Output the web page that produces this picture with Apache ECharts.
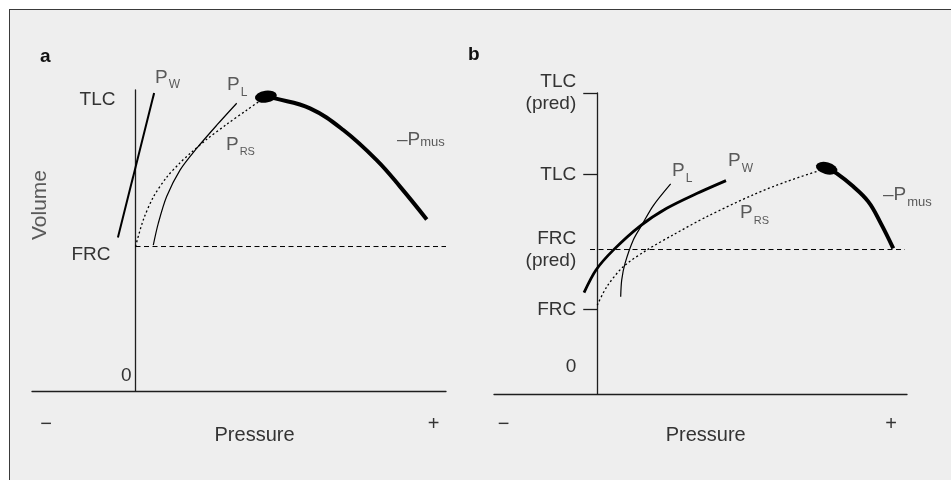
<!DOCTYPE html>
<html><head><meta charset="utf-8">
<script src="https://cdn.jsdelivr.net/npm/echarts@6/dist/echarts.min.js"></script>
<style>
html,body{margin:0;padding:0;background:#fff;}
#wrap{position:relative;width:951px;height:480px;overflow:hidden;}
#frame{position:absolute;left:9px;top:9px;width:942px;height:471px;background:#eeeeee;border-top:1px solid #3a3a3a;border-left:1px solid #3a3a3a;box-sizing:border-box;}
#chart{position:absolute;left:0;top:0;width:951px;height:480px;}
</style></head><body>
<div id="wrap"><div id="frame"></div><div id="chart"></div></div>
<script>
// ---------- data (pressure, volume as % of predicted TLC) ----------
// Panel a
const aPW   = [[-1.7,51],[1.8,99]];
const aPL   = [[1.72,48.5],[2.2,55.7],[3.01,64.6],[4.3,73.4],[5.91,80.6],[7.85,88.3],[9.78,95.6]];
const aPRS  = [[0,48],[0.75,56.8],[1.72,64.4],[3.01,71.0],[4.3,75.8],[5.27,78.9],[6.88,83.6],[8.81,88.6],[10.74,93.3],[12.6,97.8]];
const aPmus = [[12.6,97.8],[13.48,97.2],[16.86,93.9],[20.08,86.7],[23.3,76.7],[25.56,67.9],[28.14,57.0]];
const aDot  = [[12.6,97.8]];
const aFRCline = [[0,48],[30,48]];
const aVolTicks  = [0, 48, 100];
const aVolLabels = ['0', 'FRC', 'TLC'];
const aPressPos    = [-8.65, 11.5, 28.8];
const aPressLabels = ['\u2212', 'Pressure', '+'];
const aCurveNames = [['P','W'], ['P','L'], ['P','RS'], ['\u2013P','mus']];
const aCurvePos   = [[1.88,103], [8.84,100.5], [8.74,80.8], [25.27,82.2]];
const aVolumePos  = [[-9.23,61.8]];

// Panel b
const bPW   = [[-1.28,33.7],[-0.12,41.2],[1.55,47.8],[4.14,55.8],[6.73,61.7],[9.63,66.6],[12.47,70.9]];
const bPL   = [[2.27,32.3],[2.37,37.9],[2.69,43.4],[3.49,51.2],[4.31,56.1],[5.43,62.6],[7.11,69.8]];
const bPRS  = [[0,29.5],[0.92,35.6],[2.52,42.3],[4.79,47.8],[7.37,52.9],[10.6,58.9],[15.11,66.2],[18.35,70.6],[22.22,75.0]];
const bPmus = [[22.22,75.0],[23.19,73.3],[24.8,68.9],[26.25,63.9],[27.39,57.2],[28.67,48.4]];
const bDot  = [[22.22,75.0]];
const bFRCline = [[-0.7,48],[29.8,48]];
const bVolTicks  = [0, 28, 48, 73, 100];
const bVolLabels = ['0', 'FRC', 'FRC\n(pred)', 'TLC', 'TLC\n(pred)'];
const bTickMarks = [28, 73, 100];
const bPressPos    = [-9.08, 10.5, 28.45];
const bPressLabels = ['\u2212', 'Pressure', '+'];
const bCurveNames = [['P','L'], ['P','W'], ['P','RS'], ['\u2013P','mus']];
const bCurvePos   = [[7.24,72.9], [12.66,76.2], [13.83,59.0], [27.67,64.9]];

// ---------- styling ----------
const FONT = 'Liberation Sans, Arial, Helvetica, sans-serif';
const TXT = '#333333';
const AX = '#1e1e1e';
// layout: grid boxes (px) and the x-range; y-axis line sits at pressure 0
const X_MIN = -10, X_MAX = 30;
const GA = {left: 32, right: 505, top: 90, bottom: 89};
const GB = {left: 494, right: 44, top: 93, bottom: 86};
function zeroOffset(g){ const w = 951 - g.left - g.right; return w * (0 - X_MIN) / (X_MAX - X_MIN); }

function base(extra){ return Object.assign({fontFamily: FONT, color: TXT, fontSize: 19}, extra||{}); }

function volFormatter(ticks, labels, extraStyles){
  return function(v){
    const i = ticks.indexOf(v);
    if (i < 0) return '';
    const lab = labels[i];
    let st = 'n';
    if (lab === '0') st = 'zero';
    else if (extraStyles && extraStyles[lab]) st = extraStyles[lab];
    return lab.split('\n').map(s => '{' + st + '|' + s + '}').join('\n');
  };
}
function pressFormatter(pos, labels){
  return function(v){
    let i = -1, best = 1e9;
    pos.forEach((p,k)=>{ const d = Math.abs(p - v); if (d < best){best = d; i = k;} });
    const lab = labels[i];
    return lab === 'Pressure' ? '{t|' + lab + '}' : '{pm|' + lab + '}';
  };
}
const pressRich = {
  t: base({fontSize: 20}),
  pm: base({fontSize: 20, padding: [0,0,22,0]})
};

function curveLabelSeries(xi, names, pos, mainBaseline){
  return {
    type: 'scatter', xAxisIndex: xi, yAxisIndex: xi, clip: false, silent: true,
    symbolSize: 0, z: 10,
    data: pos.map((p, i) => ({
      value: p,
      label: {
        show: true, position: 'right', distance: 0,
        formatter: (names[i][1] === 'mus' && mainBaseline)
          ? '{p|' + names[i][0] + '}{m|' + names[i][1] + '}'
          : '{p|' + names[i][0] + '}{s|' + names[i][1] + '}',
        rich: {
          p: base({fontSize: 19, lineHeight: 20, padding: [0,0,4,0], verticalAlign: 'bottom'}),
          s: base({fontSize: names[i][1] === 'mus' ? 13 : (names[i][1] === 'RS' ? 11 : 12), lineHeight: 12, verticalAlign: 'bottom', padding:[0,0,0,1]}),
          m: base({fontSize: 13, lineHeight: 14, verticalAlign: 'bottom', padding: [0,0,5,0]})
        }
      }
    }))
  };
}

function lineSeries(xi, data, width, type, smooth){
  return {
    type: 'line', xAxisIndex: xi, yAxisIndex: xi, data: data, showSymbol: false,
    smooth: smooth, silent: true, z: 3,
    lineStyle: {color: '#000', width: width, type: type, cap: 'butt', opacity: 1}
  };
}
function dotSeries(xi, data, rot){
  return {
    type: 'scatter', xAxisIndex: xi, yAxisIndex: xi, data: data, clip: false, silent: true,
    symbol: 'circle', symbolSize: [22, 12], symbolRotate: rot, z: 5,
    itemStyle: {color: '#000', opacity: 1}
  };
}

const zA = zeroOffset(GA), zB = zeroOffset(GB);

const chart = echarts.init(document.getElementById('chart'), null, {renderer: 'canvas'});
chart.setOption({
  animation: false,
  backgroundColor: 'transparent',
  title: [
    {text: 'a', left: 40, top: 47, padding: 0, textStyle: {fontFamily: FONT, fontSize: 19, fontWeight: 'bold', color: '#111'}},
    {text: 'b', left: 468, top: 45, padding: 0, textStyle: {fontFamily: FONT, fontSize: 19, fontWeight: 'bold', color: '#111'}}
  ],
  grid: [
    Object.assign({containLabel: false, outerBoundsMode: 'none'}, GA),
    Object.assign({containLabel: false, outerBoundsMode: 'none'}, GB)
  ],
  xAxis: [
    {gridIndex: 0, type: 'value', min: X_MIN, max: X_MAX,
     axisLine: {show: true, onZero: true, lineStyle: {color: AX, width: 1.3}},
     axisTick: {show: false}, splitLine: {show: false},
     axisLabel: {customValues: aPressPos, formatter: pressFormatter(aPressPos, aPressLabels), margin: 44, verticalAlign: 'middle', rich: pressRich}},
    {gridIndex: 1, type: 'value', min: X_MIN, max: X_MAX,
     axisLine: {show: true, onZero: true, lineStyle: {color: AX, width: 1.3}},
     axisTick: {show: false}, splitLine: {show: false},
     axisLabel: {customValues: bPressPos, formatter: pressFormatter(bPressPos, bPressLabels), margin: 41, verticalAlign: 'middle', rich: pressRich}}
  ],
  yAxis: [
    {gridIndex: 0, type: 'value', min: 0, max: 100,
     axisLine: {show: true, onZero: true, lineStyle: {color: AX, width: 1.3}},
     axisTick: {show: false}, splitLine: {show: false},
     axisLabel: {customValues: aVolTicks, margin: 4 - zA, formatter: volFormatter(aVolTicks, aVolLabels, {TLC: 'tlc', FRC: 'frc'}),
       rich: {
         n: base(),
         tlc: base({padding: [20,16,0,0]}),
         frc: base({padding: [17,21,0,0]}),
         zero: base({padding: [0,0,30,0]})
       }}},
    {gridIndex: 1, type: 'value', min: 0, max: 100,
     axisLine: {show: true, onZero: true, lineStyle: {color: AX, width: 1.3}},
     axisTick: {show: true, customValues: bTickMarks, length: 14, inside: false, lineStyle: {color: AX, width: 1.3}},
     splitLine: {show: false},
     axisLabel: {customValues: bVolTicks, margin: 21 - zB, formatter: volFormatter(bVolTicks, bVolLabels),
       rich: {
         n: base({lineHeight: 22}),
         zero: base({padding: [0,0,54,0]})
       }}}
  ],
  series: [
    // panel a
    lineSeries(0, aFRCline, 1, [5,3.5], false),
    lineSeries(0, aPW, 2, 'solid', false),
    lineSeries(0, aPL, 1.2, 'solid', 0.3),
    lineSeries(0, aPRS, 1.3, [2,2.5], 0.3),
    lineSeries(0, aPmus, 4, 'solid', 0.4),
    dotSeries(0, aDot, 8),
    curveLabelSeries(0, aCurveNames, aCurvePos, true),
    {
      type: 'scatter', xAxisIndex: 0, yAxisIndex: 0, clip: false, silent: true, symbolSize: 0,
      data: aVolumePos,
      label: {show: true, position: 'inside', rotate: 90, formatter: 'Volume', fontFamily: FONT, fontSize: 21, color: TXT}
    },
    // panel b
    lineSeries(1, bFRCline, 1, [5,3.5], false),
    lineSeries(1, bPW, 2.8, 'solid', 0.3),
    lineSeries(1, bPL, 1.2, 'solid', 0.3),
    lineSeries(1, bPRS, 1.3, [2,2.5], 0.3),
    lineSeries(1, bPmus, 4, 'solid', 0.4),
    dotSeries(1, bDot, -15),
    curveLabelSeries(1, bCurveNames, bCurvePos, false)
  ]
});
</script>
</body></html>
